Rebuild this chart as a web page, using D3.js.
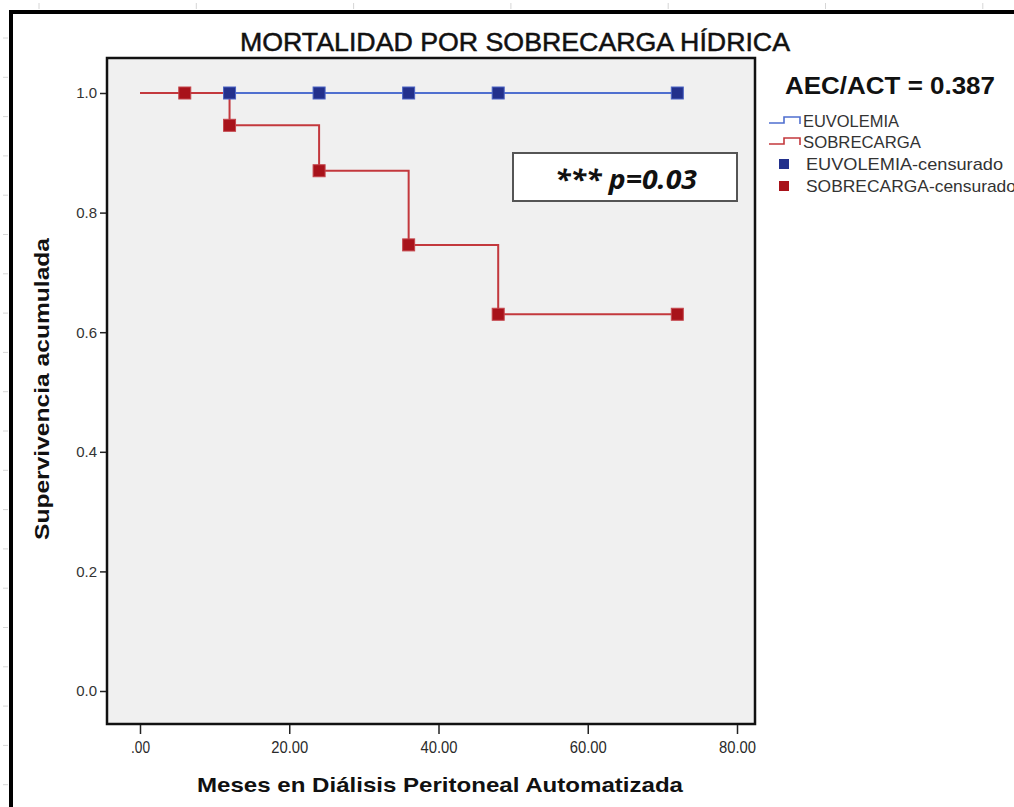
<!DOCTYPE html>
<html>
<head>
<meta charset="utf-8">
<script src="https://cdn.jsdelivr.net/npm/d3@7"></script>
<style>
  html, body { margin: 0; padding: 0; background: #fff; }
  svg { display: block; }
</style>
</head>
<body>
<svg id="chart" width="1014" height="807"></svg>
<script>
// Kaplan-Meier survival data (months on automated peritoneal dialysis)
const groups = ["EUVOLEMIA", "SOBRECARGA"];
const euvolemiaTimes = [0, 72];
const euvolemiaSurv  = [1.0, 1.0];
const euvolemiaCensorTimes = [12, 24, 36, 48, 72];
const euvolemiaCensorSurv  = [1.0, 1.0, 1.0, 1.0, 1.0];

const sobrecargaTimes = [0, 12, 24, 36, 48, 72];
const sobrecargaSurv  = [1.0, 0.946, 0.870, 0.746, 0.630, 0.630];
const sobrecargaCensorTimes = [6, 12, 24, 36, 48, 72];
const sobrecargaCensorSurv  = [1.0, 0.946, 0.870, 0.746, 0.630, 0.630];

const xTicks = [0, 20, 40, 60, 80];
const xTickLabels = [".00", "20.00", "40.00", "60.00", "80.00"];
const yTicks = [0, 0.2, 0.4, 0.6, 0.8, 1.0];
const yTickLabels = ["0.0", "0.2", "0.4", "0.6", "0.8", "1.0"];

const title = "MORTALIDAD POR SOBRECARGA HÍDRICA";
const ratioLabel = "AEC/ACT = 0.387";
const pLabel = "*** p=0.03";
const xTitle = "Meses en Diálisis Peritoneal Automatizada";
const yTitle = "Supervivencia acumulada";

const svg = d3.select("#chart");
const narrow = "'Liberation Sans Narrow', 'Liberation Sans', Arial, sans-serif";
const sans = "'Liberation Sans', Arial, sans-serif";

// faint ruler marks around the page edge
const ruler = svg.append("g").attr("stroke", "#d6d6d6").attr("stroke-width", 1);
d3.range(39, 1014, 157.3).forEach(x => {
  ruler.append("line").attr("x1", x).attr("x2", x).attr("y1", 3).attr("y2", 9);
});
d3.range(38, 807, 39.3).forEach(y => {
  ruler.append("line").attr("x1", 3).attr("x2", 8).attr("y1", y).attr("y2", y);
});

// outer chart frame (continues past the right and bottom edges)
svg.append("path")
  .attr("d", "M11,820 V12 H1030")
  .attr("fill", "none").attr("stroke", "#000").attr("stroke-width", 4);

// plot region
const frame = { left: 107, right: 755, top: 58, bottom: 724 };
const x = d3.scaleLinear().domain([0, 80]).range([140, 737]);
const y = d3.scaleLinear().domain([0, 1]).range([691, 93]);

svg.append("rect")
  .attr("x", frame.left).attr("y", frame.top)
  .attr("width", frame.right - frame.left).attr("height", frame.bottom - frame.top)
  .attr("fill", "#f0f0f0").attr("stroke", "#111").attr("stroke-width", 2.5);

// axes
const xAxis = d3.axisBottom(x).tickValues(xTicks)
  .tickFormat((d, i) => xTickLabels[i]).tickSize(9).tickPadding(8);
const gx = svg.append("g").attr("transform", `translate(0,${frame.bottom + 1})`).call(xAxis);
gx.select(".domain").remove();
gx.selectAll("line").attr("stroke", "#222").attr("stroke-width", 1.5);
gx.selectAll("text").attr("font-family", narrow).attr("font-size", 16).attr("fill", "#2a2a2a")
  .attr("textLength", d => d === 0 ? 19 : 37).attr("lengthAdjust", "spacingAndGlyphs");

const yAxis = d3.axisLeft(y).tickValues(yTicks)
  .tickFormat((d, i) => yTickLabels[i]).tickSize(6).tickPadding(3);
const gy = svg.append("g").attr("transform", `translate(${frame.left - 1},0)`).call(yAxis);
gy.select(".domain").remove();
gy.selectAll("line").attr("stroke", "#222").attr("stroke-width", 1.5);
gy.selectAll("text").attr("font-family", sans).attr("font-size", 15).attr("fill", "#333");

// survival step curves
const step = d3.line().x(d => x(d[0])).y(d => y(d[1])).curve(d3.curveStepAfter);
const blueLine = "#4f6fcf", redLine = "#c3383d";
const blueMark = "#22308c", redMark = "#a8121a";

svg.append("path")
  .datum(d3.zip(euvolemiaTimes, euvolemiaSurv))
  .attr("d", step).attr("fill", "none").attr("stroke", blueLine).attr("stroke-width", 2);
svg.append("path")
  .datum(d3.zip(sobrecargaTimes, sobrecargaSurv))
  .attr("d", step).attr("fill", "none").attr("stroke", redLine).attr("stroke-width", 2);

// censoring marks
const sq = 12;
function marks(times, surv, fill, edge) {
  svg.append("g").selectAll("rect")
    .data(d3.zip(times, surv)).join("rect")
    .attr("x", d => x(d[0]) - sq / 2).attr("y", d => y(d[1]) - sq / 2)
    .attr("width", sq).attr("height", sq)
    .attr("fill", fill).attr("stroke", edge).attr("stroke-width", 1);
}
marks(sobrecargaCensorTimes, sobrecargaCensorSurv, redMark, "#c4454b");
marks(euvolemiaCensorTimes, euvolemiaCensorSurv, blueMark, "#4a63c4");

// p-value annotation box
svg.append("rect")
  .attr("x", 513).attr("y", 153).attr("width", 224).attr("height", 48)
  .attr("fill", "#fff").attr("stroke", "#555").attr("stroke-width", 2);
svg.append("text")
  .attr("x", 555).attr("y", 189)
  .attr("font-family", "'Open Sans', 'Noto Sans', sans-serif")
  .attr("font-weight", "bold").attr("font-style", "italic").attr("font-size", 27)
  .attr("fill", "#111")
  .attr("textLength", 142).attr("lengthAdjust", "spacingAndGlyphs")
  .text(pLabel);

// titles
svg.append("text")
  .attr("x", 515).attr("y", 51).attr("text-anchor", "middle")
  .attr("font-family", narrow).attr("font-size", 26).attr("fill", "#111")
  .attr("stroke", "#111").attr("stroke-width", 0.5)
  .attr("textLength", 550).attr("lengthAdjust", "spacingAndGlyphs")
  .text(title);

svg.append("text")
  .attr("x", 785).attr("y", 94)
  .attr("font-family", sans).attr("font-weight", "bold").attr("font-size", 24).attr("fill", "#111")
  .attr("textLength", 210).attr("lengthAdjust", "spacingAndGlyphs")
  .text(ratioLabel);

svg.append("text")
  .attr("x", 440).attr("y", 792).attr("text-anchor", "middle")
  .attr("font-family", sans).attr("font-weight", "bold").attr("font-size", 21).attr("fill", "#111")
  .attr("textLength", 486).attr("lengthAdjust", "spacingAndGlyphs")
  .text(xTitle);

svg.append("text")
  .attr("transform", "translate(49,389) rotate(-90)").attr("text-anchor", "middle")
  .attr("font-family", sans).attr("font-weight", "bold").attr("font-size", 21).attr("fill", "#111")
  .attr("textLength", 302).attr("lengthAdjust", "spacingAndGlyphs")
  .text(yTitle);

// legend
const legend = svg.append("g").attr("font-family", narrow).attr("font-size", 17).attr("fill", "#333");
const legendRows = [
  { label: groups[0], kind: "line", color: blueLine, y: 121, w: 96 },
  { label: groups[1], kind: "line", color: redLine, y: 142, w: 118 },
  { label: groups[0] + "-censurado", kind: "mark", color: blueMark, y: 164, w: 197 },
  { label: groups[1] + "-censurado", kind: "mark", color: redMark, y: 186, w: 210 }
];
legendRows.forEach(r => {
  if (r.kind === "line") {
    legend.append("path")
      .attr("d", `M769,${r.y + 2} H784 V${r.y - 4} H800 V${r.y + 3}`)
      .attr("fill", "none").attr("stroke", r.color).attr("stroke-width", 1.6);
  } else {
    legend.append("rect")
      .attr("x", 779).attr("y", r.y - 5).attr("width", 10).attr("height", 10)
      .attr("fill", r.color);
  }
  legend.append("text").attr("x", r.kind === "line" ? 803 : 806).attr("y", r.y + 6)
    .attr("textLength", r.w).attr("lengthAdjust", "spacingAndGlyphs")
    .text(r.label);
});
</script>
</body>
</html>
